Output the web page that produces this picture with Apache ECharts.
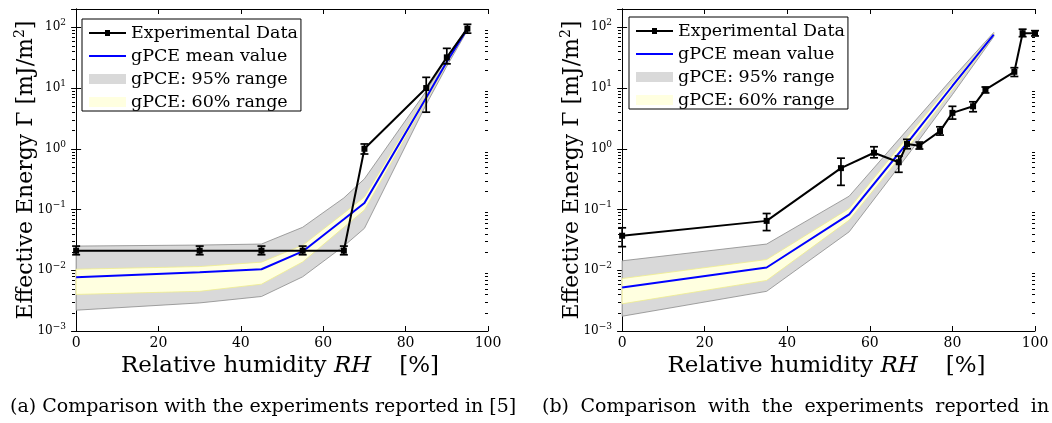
<!DOCTYPE html>
<html>
<head>
<meta charset="utf-8">
<script src="https://cdn.jsdelivr.net/npm/echarts@6/dist/echarts.min.js"></script>
<style>
  html, body { margin: 0; padding: 0; background: #fff; }
  #chart { width: 1052px; height: 423px; }
</style>
</head>
<body>
<div id="chart"></div>
<script>
// ---- (a) experiments reported in [5] ----
const expRH_a = [0, 30, 45, 55, 65, 70, 85, 90, 95];
const expG_a  = [0.021, 0.021, 0.021, 0.021, 0.021, 1.0, 10, 32, 95];
const expLo_a = [0.018, 0.018, 0.018, 0.018, 0.018, 0.82, 4.0, 25, 80];
const expHi_a = [0.025, 0.025, 0.025, 0.025, 0.025, 1.2, 15, 45, 112];

const pceRH_a    = [0, 30, 45, 55, 65, 70, 85, 90, 95];
const pceMean_a  = [0.0077, 0.0093, 0.0104, 0.0204, 0.069, 0.128, 6.9, 27, 95];
const pce95Hi_a  = [0.025, 0.026, 0.027, 0.051, 0.155, 0.32, 8.9, 31.7, 102];
const pce95Lo_a  = [0.0022, 0.0029, 0.0037, 0.0078, 0.025, 0.049, 5.36, 22.9, 88.7];
const pce60Hi_a  = [0.0104, 0.0115, 0.0136, 0.0257, 0.087, 0.16, 7.66, 28.9, 97.3];
const pce60Lo_a  = [0.0040, 0.0045, 0.0059, 0.0137, 0.051, 0.098, 6.2, 25.2, 92.9];

// ---- (b) second experimental campaign ----
const expRH_b = [0, 35, 53, 61, 67, 69, 72, 77, 80, 85, 88, 95, 97, 100];
const expG_b  = [0.037, 0.065, 0.48, 0.86, 0.60, 1.2, 1.12, 1.95, 3.9, 5.0, 9.4, 18.5, 80, 80];
const expLo_b = [0.0245, 0.045, 0.25, 0.71, 0.41, 1.0, 0.99, 1.68, 3.08, 4.07, 8.3, 15.5, 70, 72];
const expHi_b = [0.050, 0.086, 0.70, 1.08, 0.76, 1.43, 1.29, 2.3, 5.0, 5.94, 10.4, 21.6, 93, 88];

const pceRH_b    = [0, 35, 55, 70, 80, 90];
const pceMean_b  = [0.0052, 0.0111, 0.083, 1.5, 10.8, 76];
const pce95Hi_b  = [0.0143, 0.027, 0.166, 2.43, 14.5, 82];
const pce95Lo_b  = [0.00175, 0.0045, 0.043, 0.93, 7.8, 70];
const pce60Hi_b  = [0.0073, 0.015, 0.104, 1.85, 12.4, 79.5];
const pce60Lo_b  = [0.0028, 0.0068, 0.067, 1.22, 9.4, 72.5];

// ---- axes ----
const xTickValues = [0, 20, 40, 60, 80, 100];
const minorMultipliers = [2, 3, 4, 5, 6, 7, 8, 9];
const minorDecades = [0.001, 0.01, 0.1, 1, 10];

const FONT = 'DejaVu Serif';
const legendNames = ['Experimental Data', 'gPCE mean value', 'gPCE: 95% range', 'gPCE: 60% range'];
const captionWords = [
  ['(a)', 'Comparison', 'with', 'the', 'experiments', 'reported', 'in', '[5]'],
  ['(b)', 'Comparison', 'with', 'the', 'experiments', 'reported', 'in']
];

const minorTickValues = [];
minorDecades.forEach(d => minorMultipliers.forEach(m => minorTickValues.push(m * d)));

const grids = [
  { left: 72, top: 9, width: 416, height: 322 },
  { left: 618, top: 9, width: 417, height: 322 }
];

function decadeLabel(v) {
  const e = Math.round(Math.log10(v));
  if (Math.abs(Math.pow(10, e) - v) / v > 1e-6) return '';
  return '{b|10}{s|' + String(e).replace('-', '\u2212') + '}';
}

const xAxes = [], yAxes = [];
grids.forEach((g, gi) => {
  const common = {
    gridIndex: gi, type: 'value', min: -1, max: 100,
    splitLine: { show: false },
    axisLine: { show: true, onZero: false, lineStyle: { color: '#000', width: 1 } },
    axisTick: { show: true, inside: true, length: 5, customValues: xTickValues, lineStyle: { color: '#000' } }
  };
  xAxes.push(Object.assign({}, common, {
    position: 'bottom',
    axisLabel: { customValues: xTickValues, color: '#000', fontFamily: FONT, fontSize: 14, margin: 5 },
    name: 'Relative humidity {i|RH}{g| }[%]',
    nameLocation: 'middle', nameGap: 23,
    nameTextStyle: {
      color: '#000', fontFamily: FONT, fontSize: 23,
      rich: {
        i: { fontFamily: FONT, fontSize: 23, fontStyle: 'italic', color: '#000' },
        g: { width: 28, fontSize: 23 }
      }
    }
  }));
  xAxes.push(Object.assign({}, common, { position: 'top', axisLabel: { show: false } }));

  const ycommon = {
    gridIndex: gi, type: 'log', logBase: 10, min: 0.001, max: 200,
    splitLine: { show: false }, minorTick: { show: false },
    axisLine: { show: true, lineStyle: { color: '#000', width: 1 } },
    axisTick: { show: true, inside: true, length: 5, lineStyle: { color: '#000' } }
  };
  yAxes.push(Object.assign({}, ycommon, {
    position: 'left',
    axisLabel: {
      color: '#000', margin: 6, formatter: decadeLabel,
      rich: {
        b: { fontFamily: FONT, fontSize: 12, color: '#000' },
        s: { fontFamily: FONT, fontSize: 9, color: '#000', padding: [0, 0, 9, 0] }
      }
    },
    name: 'Effective Energy \u0393 [mJ/m{s|2}]',
    nameLocation: 'middle', nameGap: 33, nameMoveOverlap: false,
    nameTextStyle: {
      color: '#000', fontFamily: FONT, fontSize: 22,
      rich: { s: { fontFamily: FONT, fontSize: 14, color: '#000', padding: [0, 0, 12, 0] } }
    }
  }));
  yAxes.push(Object.assign({}, ycommon, { position: 'right', axisLabel: { show: false } }));
});

// closed outline of a band between lower and upper bounds
function bandSeries(gi, name, rh, lo, hi, fill, stroke) {
  return {
    type: 'custom', name: name, xAxisIndex: gi * 2, yAxisIndex: gi * 2,
    itemStyle: { color: fill }, silent: true, z: 1,
    data: rh.map((x, i) => [x, lo[i], hi[i]]),
    encode: { x: 0, y: [1, 2] },
    renderItem: function (params, api) {
      if (params.dataIndex !== 0) return null;
      const pts = [];
      for (let i = 0; i < rh.length; i++) pts.push(api.coord([rh[i], hi[i]]));
      for (let i = rh.length - 1; i >= 0; i--) pts.push(api.coord([rh[i], lo[i]]));
      return { type: 'polygon', shape: { points: pts }, style: { fill: fill, stroke: stroke, lineWidth: 0.8 } };
    }
  };
}

function errorBarSeries(gi, rh, lo, hi) {
  return {
    type: 'custom', name: 'error', xAxisIndex: gi * 2, yAxisIndex: gi * 2, silent: true, z: 4,
    data: rh.map((x, i) => [x, lo[i], hi[i]]),
    encode: { x: 0, y: [1, 2] },
    renderItem: function (params, api) {
      const x = api.value(0);
      const a = api.coord([x, api.value(1)]);
      const b = api.coord([x, api.value(2)]);
      const w = 4;
      const st = { stroke: '#000', lineWidth: 1.7 };
      return {
        type: 'group',
        children: [
          { type: 'line', shape: { x1: a[0], y1: a[1], x2: b[0], y2: b[1] }, style: st },
          { type: 'line', shape: { x1: a[0] - w, y1: a[1], x2: a[0] + w, y2: a[1] }, style: st },
          { type: 'line', shape: { x1: b[0] - w, y1: b[1], x2: b[0] + w, y2: b[1] }, style: st }
        ]
      };
    }
  };
}

function minorTickSeries(gi) {
  return {
    type: 'custom', name: 'minor', xAxisIndex: gi * 2, yAxisIndex: gi * 2, silent: true, z: 6,
    data: minorTickValues.map(v => [0, v]),
    encode: { x: 0, y: 1 },
    renderItem: function (params, api) {
      const cs = params.coordSys;
      const y = Math.round(api.coord([0, api.value(1)])[1]) + 0.5;
      const st = { stroke: '#000', lineWidth: 1 };
      return {
        type: 'group',
        children: [
          { type: 'line', shape: { x1: cs.x, y1: y, x2: cs.x + 3, y2: y }, style: st },
          { type: 'line', shape: { x1: cs.x + cs.width - 3, y1: y, x2: cs.x + cs.width, y2: y }, style: st }
        ]
      };
    }
  };
}

function chartSeries(gi, d) {
  return [
    bandSeries(gi, legendNames[2], d.pceRH, d.lo95, d.hi95, '#d9d9d9', '#8a8a8a'),
    bandSeries(gi, legendNames[3], d.pceRH, d.lo60, d.hi60, '#ffffe0', '#f0ee8c'),
    {
      type: 'line', name: legendNames[1], xAxisIndex: gi * 2, yAxisIndex: gi * 2, z: 3,
      data: d.pceRH.map((x, i) => [x, d.mean[i]]),
      symbol: 'none', lineStyle: { color: '#0000ff', width: 2 }, itemStyle: { color: '#0000ff' }
    },
    errorBarSeries(gi, d.expRH, d.expLo, d.expHi),
    {
      type: 'line', name: legendNames[0], xAxisIndex: gi * 2, yAxisIndex: gi * 2, z: 5,
      data: d.expRH.map((x, i) => [x, d.expG[i]]),
      symbol: 'rect', symbolSize: 6, showSymbol: true,
      lineStyle: { color: '#000', width: 2 }, itemStyle: { color: '#000' }
    },
    minorTickSeries(gi)
  ];
}

const series = [].concat(
  chartSeries(0, {
    expRH: expRH_a, expG: expG_a, expLo: expLo_a, expHi: expHi_a,
    pceRH: pceRH_a, mean: pceMean_a, lo95: pce95Lo_a, hi95: pce95Hi_a, lo60: pce60Lo_a, hi60: pce60Hi_a
  }),
  chartSeries(1, {
    expRH: expRH_b, expG: expG_b, expLo: expLo_b, expHi: expHi_b,
    pceRH: pceRH_b, mean: pceMean_b, lo95: pce95Lo_b, hi95: pce95Hi_b, lo60: pce60Lo_b, hi60: pce60Hi_b
  })
);

const legendData = [
  { name: legendNames[0], icon: 'path://M0,2H16V0H21V2H37V4H21V6H16V4H0Z', itemStyle: { color: '#000', borderWidth: 0 } },
  { name: legendNames[1], icon: 'path://M0,0H37V2H0Z', itemStyle: { color: '#0000ff', borderWidth: 0 } },
  { name: legendNames[2], icon: 'rect', itemStyle: { color: '#d9d9d9', borderWidth: 0 } },
  { name: legendNames[3], icon: 'rect', itemStyle: { color: '#ffffe0', borderWidth: 0 } }
];
function legendAt(left, top) {
  return {
    left: left, top: top, orient: 'vertical',
    data: legendData, selectedMode: false,
    itemWidth: 37, itemHeight: 10, itemGap: 5,
    padding: [5, 3, 0, 7],
    backgroundColor: '#fff', borderColor: '#000', borderWidth: 1,
    textStyle: { fontFamily: FONT, fontSize: 17.5, color: '#000', lineHeight: 18 },
    z: 10
  };
}

// justified caption line: words separated by widened gaps
function captionTitle(words, left, gap) {
  return {
    text: words.join('{w| }'), left: left, top: 393,
    textStyle: {
      fontFamily: FONT, fontSize: 19, fontWeight: 'normal', color: '#000',
      rich: { w: { width: gap, fontSize: 19 } }
    }
  };
}

const option = {
  animation: false,
  backgroundColor: '#fff',
  title: [
    captionTitle(captionWords[0], 5, 6),
    captionTitle(captionWords[1], 537, 11.5)
  ],
  legend: [legendAt(82, 19), legendAt(629, 17)],
  grid: grids,
  xAxis: xAxes,
  yAxis: yAxes,
  series: series
};

const chart = echarts.init(document.getElementById('chart'), null, { renderer: 'canvas' });
chart.setOption(option);
</script>
</body>
</html>
